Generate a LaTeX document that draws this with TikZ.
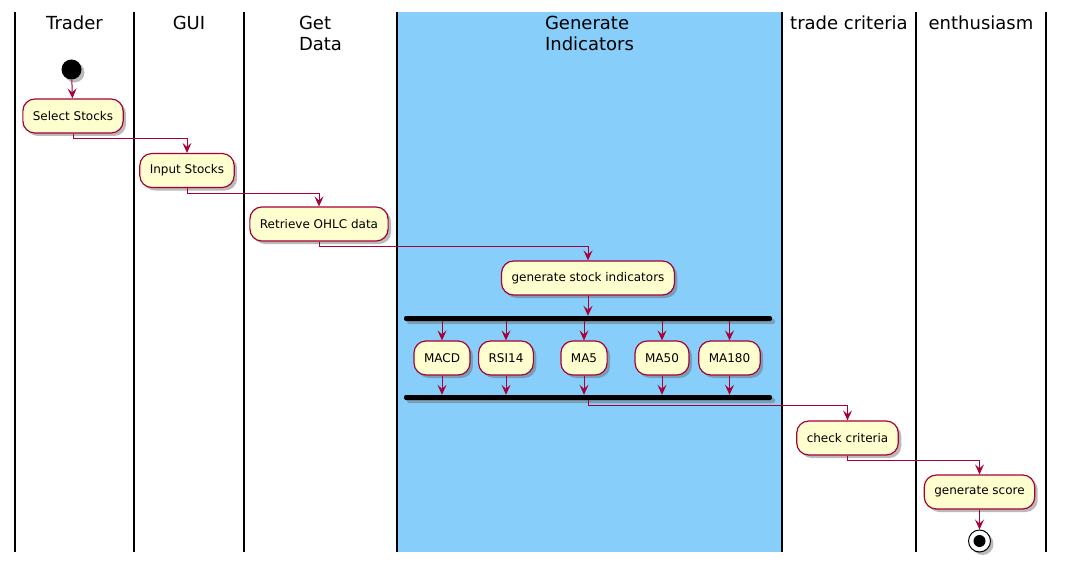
\documentclass[tikz,border=0pt]{standalone}
\usepackage{fontspec}
\setmainfont{DejaVu Sans}
\usetikzlibrary{arrows.meta}
\usetikzlibrary{shadows}
\definecolor{umlred}{HTML}{A80036}
\definecolor{umlbox}{HTML}{FEFECE}
\definecolor{umlsky}{HTML}{87CEFA}

\begin{document}
\begin{tikzpicture}[x=1pt,y=-1pt,>={Stealth[length=10pt,width=9pt,inset=4pt]},
umlshadow/.style={drop shadow={shadow xshift=3pt,shadow yshift=-3pt,fill=black!60,opacity=.45}},
activity/.style={rectangle,rounded corners=12pt,draw=umlred,line width=1.2pt,fill=umlbox,
  font=\fontsize{12}{14}\selectfont,inner xsep=10pt,minimum height=34pt,umlshadow},
syncbar/.style={rectangle,rounded corners=2pt,fill=black,inner sep=0pt,
  minimum width=368pt,minimum height=5pt,umlshadow},
lanetitle/.style={font=\fontsize{18}{21}\selectfont,align=left,inner sep=0pt,anchor=base}]

\useasboundingbox (0,0) rectangle (1065,567);

\fill[umlsky] (397,12) rectangle (782,552);
\foreach \x in {15,134,244,397,782,916,1046}
  \draw[line width=1.6pt] (\x,12) -- (\x,552);

% titles: base of a two line title is its last line
\node[lanetitle](t-trader) at (74.5,29.5){Trader};
\node[lanetitle](t-gui) at (189,29.5){GUI};
\node[lanetitle](t-data) at (320.5,50.5){Get\\Data};
\node[lanetitle](t-ind) at (589.5,50.5){Generate\\Indicators};
\node[lanetitle](t-crit) at (849,29.5){trade criteria};
\node[lanetitle](t-enth) at (981,29.5){enthusiasm};

\node[circle,fill=black,minimum size=20pt,inner sep=0pt,umlshadow](start) at (71.5,69.5){};
\node[activity](select) at (73,116){Select Stocks};
\node[activity](input) at (187,170.5){Input Stocks};
\node[activity](ohlc) at (319,224){Retrieve OHLC data};
\node[activity](gsi) at (588,278){generate stock indicators};

\node[syncbar](fork) at (588,318.5){};
\node[activity](macd) at (442,358){MACD};
\node[activity](rsi14) at (506,358){RSI14};
\node[activity](ma5) at (584,358){MA5};
\node[activity](ma50) at (662,358){MA50};
\node[activity](ma180) at (729.5,358){MA180};
\node[syncbar](join) at (588,397.5){};

\node[activity](check) at (847.5,438){check criteria};
\node[activity](score) at (979.5,492){generate score};
\node[circle,draw=black,line width=1pt,fill=white,minimum size=22pt,inner sep=0pt,umlshadow,
  path picture={\fill[black] (path picture bounding box.center) circle (6pt);}](stop) at (979.5,541){};

\begin{scope}[->, color=umlred, line width=1pt]
\draw (start)--(select);
\draw (select.south)--++(0,5)-|(input.north);
\draw (input.south)--++(0,5)-|(ohlc.north);
\draw (ohlc.south)--++(0,5)-|(gsi.north);
\draw (gsi.south)--(fork.north);
\foreach \b in {macd,rsi14,ma5,ma50,ma180}{
  \draw (\b |- fork.south)--(\b.north);
  \draw (\b.south)--(\b |- join.north);
}
\draw (join.south)--++(0,5)-|(check.north);
\draw (check.south)--++(0,5)-|(score.north);
\draw (score.south)--(stop.north);
\end{scope}
\end{tikzpicture}
\end{document}
